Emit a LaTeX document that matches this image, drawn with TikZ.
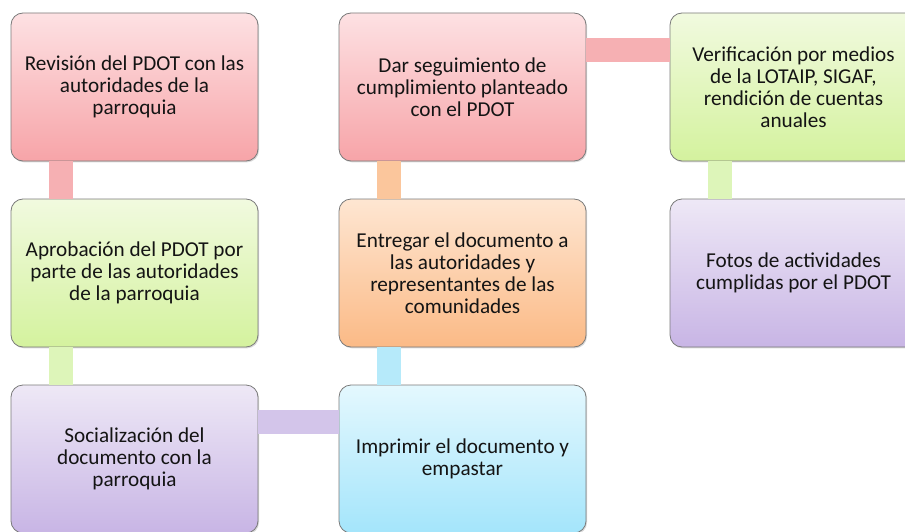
\documentclass[tikz,border=0pt]{standalone}
\usepackage{fontspec}
\setmainfont{Carlito}
\usetikzlibrary{shadows}
\definecolor{redtop}{HTML}{FDE1E3}
\definecolor{redbot}{HTML}{F7A4A8}
\definecolor{greentop}{HTML}{F1FADF}
\definecolor{greenbot}{HTML}{D4F29E}
\definecolor{purpletop}{HTML}{EEE8F6}
\definecolor{purplebot}{HTML}{C8B5E5}
\definecolor{orangetop}{HTML}{FEE6D2}
\definecolor{orangebot}{HTML}{FBBA86}
\definecolor{cyantop}{HTML}{E4F8FE}
\definecolor{cyanbot}{HTML}{A4E5FB}
\definecolor{redbar}{HTML}{F6B0B3}
\definecolor{greenbar}{HTML}{DDF5B9}
\definecolor{purplebar}{HTML}{D3C5EA}
\definecolor{orangebar}{HTML}{FBC69C}
\definecolor{cyanbar}{HTML}{B6EAFA}
\definecolor{edge}{HTML}{7A7A7A}
\definecolor{ink}{HTML}{141414}
\tikzset{
  stagebox/.style={rectangle, rounded corners=9pt, draw=edge, line width=0.6pt,
    minimum width=185.25pt, minimum height=111pt, inner sep=2pt, align=center,
    text=ink, font=\fontsize{15.9}{16.4}\selectfont,
    drop shadow={shadow xshift=0.8pt, shadow yshift=-1pt, opacity=0.3, fill=gray},
    shading=axis, shading angle=0, top color=#1top, bottom color=#1bot},
  bar/.style={line width=18pt, draw=#1}
}
\begin{document}
\begin{tikzpicture}[x=0.75pt, y=-0.75pt]
  \useasboundingbox (0,0) rectangle (905,531);
  \clip (0,0) rectangle (905,531);
  % first column
  \node[stagebox=red]    (rev) at (134.5,87)  {Revisión del PDOT con las\\autoridades de la\\parroquia};
  \node[stagebox=green]  (apr) at (134.5,273) {Aprobación del PDOT por\\parte de las autoridades\\de la parroquia};
  \node[stagebox=purple] (soc) at (134.5,459) {Socialización del\\documento con la\\parroquia};
  % second column
  \node[stagebox=red]    (dar) at (462.5,87)  {Dar seguimiento de\\cumplimiento planteado\\con el PDOT};
  \node[stagebox=orange] (ent) at (462.5,273) {Entregar el documento a\\las autoridades y\\representantes de las\\comunidades};
  \node[stagebox=cyan]   (imp) at (462.5,459) {Imprimir el documento y\\empastar};
  % third column
  \node[stagebox=green]  (ver) at (793.5,87)  {Verificación por medios\\de la LOTAIP, SIGAF,\\rendición de cuentas\\anuales};
  \node[stagebox=purple] (fot) at (793.5,273) {Fotos de actividades\\cumplidas por el PDOT};
  % vertical links
  \foreach \up/\low/\c in {rev/apr/redbar, apr/soc/greenbar, ent/imp/cyanbar, dar/ent/orangebar, ver/fot/greenbar}
    \draw[bar=\c] ([xshift=37.9pt]\up.south west) -- ([xshift=37.9pt]\low.north west);
  % horizontal links
  \draw[bar=purplebar] ([yshift=-28.1pt]soc.north east) -- ([yshift=-28.1pt]imp.north west);
  \draw[bar=redbar]    ([yshift=-28.1pt]dar.north east) -- ([yshift=-28.1pt]ver.north west);
\end{tikzpicture}
\end{document}
